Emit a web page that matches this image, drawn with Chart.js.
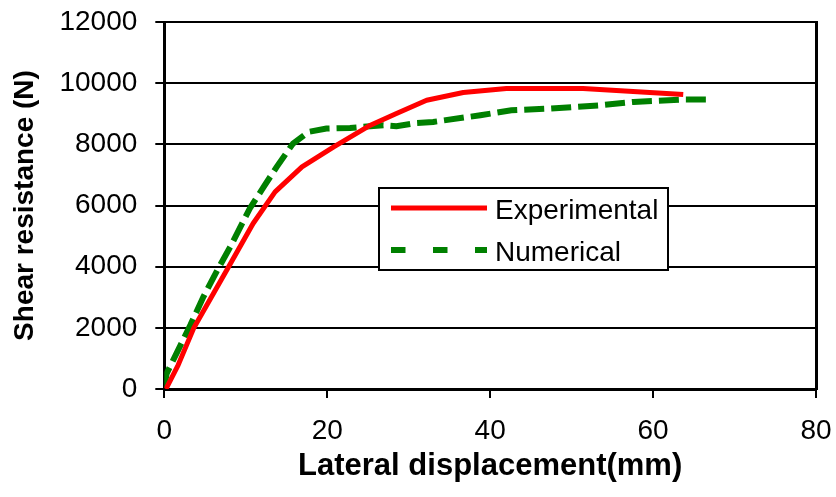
<!DOCTYPE html>
<html><head><meta charset="utf-8">
<script src="https://cdn.jsdelivr.net/npm/chart.js@4.4.1/dist/chart.umd.min.js"></script>
<style>html,body{margin:0;padding:0;background:#fff;overflow:hidden;} #wrap{width:836px;height:497px;}</style>
</head><body><div id="wrap"><canvas id="c" width="836" height="497"></canvas></div>
<script>
const seriesNames = ['Experimental', 'Numerical'];
const expX = [0.2, 1.7, 3.6, 7.9, 10.9, 13.6, 16.9, 20.8, 25.3, 28.5, 32.2, 36.7, 42.0, 48.0, 51.4, 63.7];
const expY = [0, 784, 1983, 3995, 5413, 6446, 7262, 7916, 8625, 9007, 9441, 9693, 9824, 9824, 9824, 9628];
const numX = [0, 0.3, 1.5, 3.2, 4.8, 6.4, 8.1, 10.5, 12.2, 13.8, 15.8, 17.7, 19.9, 22.8, 26.9, 28.5, 31.0, 33.0, 38.8, 42.6, 47.4, 53.5, 57.6, 63.7, 67.0];
const numY = [75, 513, 1166, 2091, 3015, 3832, 4649, 5903, 6609, 7262, 8027, 8406, 8517, 8537, 8625, 8592, 8700, 8733, 8951, 9114, 9170, 9278, 9386, 9464, 9464];
const xTicks = [0, 20, 40, 60, 80];
const yTicks = [0, 2000, 4000, 6000, 8000, 10000, 12000];
const xTitle = 'Lateral displacement(mm)';
const yTitle = 'Shear resistance (N)';

const FONT = '"Liberation Sans", Arial, Helvetica, sans-serif';
const toPts = (xs, ys) => xs.map((x, i) => ({x: x, y: ys[i]}));

const boxLegend = {
  id: 'boxLegend',
  afterDatasetsDraw(chart) {
    const ctx = chart.ctx;
    ctx.save();
    ctx.fillStyle = '#fff';
    ctx.fillRect(379, 188, 289, 82);
    ctx.lineWidth = 2;
    ctx.strokeStyle = '#000';
    ctx.strokeRect(379, 188, 289, 82);
    const lineY = [208, 250];
    const textY = [219, 261];
    const dashes = [[], [14.5, 27.5]];
    chart.data.datasets.forEach((ds, i) => {
      ctx.beginPath();
      ctx.setLineDash(dashes[i]);
      ctx.lineCap = 'butt';
      ctx.strokeStyle = ds.borderColor;
      ctx.lineWidth = ds.borderWidth;
      ctx.moveTo(391, lineY[i]);
      ctx.lineTo(487, lineY[i]);
      ctx.stroke();
      ctx.setLineDash([]);
      ctx.fillStyle = '#000';
      ctx.font = '28px ' + FONT;
      ctx.textBaseline = 'alphabetic';
      ctx.textAlign = 'left';
      ctx.fillText(ds.label, 495, textY[i]);
    });
    ctx.restore();
  }
};

new Chart(document.getElementById('c'), {
  type: 'scatter',
  data: {
    datasets: [
      {label: seriesNames[0], data: toPts(expX, expY), showLine: true, borderColor: '#FF0000', backgroundColor: '#FF0000', borderWidth: 5, pointRadius: 0, tension: 0, borderJoinStyle: 'round'},
      {label: seriesNames[1], data: toPts(numX, numY), showLine: true, borderColor: '#008000', backgroundColor: '#008000', borderWidth: 6, borderDash: [20, 7], pointRadius: 0, tension: 0}
    ]
  },
  options: {
    responsive: false,
    animation: false,
    devicePixelRatio: 1,
    layout: {padding: {top: 22, right: 20, left: 0, bottom: 0}},
    plugins: {legend: {display: false}, tooltip: {enabled: false}},
    scales: {
      x: {
        type: 'linear', min: 0, max: 80,
        afterBuildTicks: s => { s.ticks = xTicks.map(v => ({value: v})); },
        afterFit: s => { s.height = 108; s.paddingLeft = 0; s.paddingRight = 0; },
        ticks: {color: '#000', font: {family: FONT, size: 28}, padding: 16, callback: v => String(v), maxRotation: 0},
        grid: {drawOnChartArea: false, drawTicks: true, tickLength: 9, tickColor: '#000', tickWidth: 2, color: '#000', lineWidth: 2},
        border: {display: true, color: '#000', width: 3},
        title: {display: true, text: xTitle, color: '#000', font: {family: FONT, size: 31, weight: 'bold'}, padding: {top: 0, bottom: 12}}
      },
      y: {
        type: 'linear', min: 0, max: 12000,
        afterBuildTicks: s => { s.ticks = yTicks.map(v => ({value: v})); },
        afterFit: s => { s.width = 164.3; s.paddingTop = 0; s.paddingBottom = 0; },
        ticks: {color: '#000', font: {family: FONT, size: 28}, padding: 18, callback: v => String(v)},
        grid: {drawOnChartArea: true, drawTicks: true, tickLength: 9, tickColor: '#000', tickWidth: 2, color: '#000', lineWidth: 2},
        border: {display: true, color: '#000', width: 3},
        title: {display: true, text: yTitle, color: '#000', font: {family: FONT, size: 28, weight: 'bold'}, padding: {top: 8, bottom: 0}}
      },
      y2: {
        type: 'linear', position: 'right', min: 0, max: 12000,
        afterFit: s => { s.width = 0; s.paddingTop = 0; s.paddingBottom = 0; },
        ticks: {display: false},
        grid: {display: false, drawTicks: false},
        border: {display: true, color: '#000', width: 3}
      }
    }
  },
  plugins: [boxLegend]
});
</script>
</body></html>
